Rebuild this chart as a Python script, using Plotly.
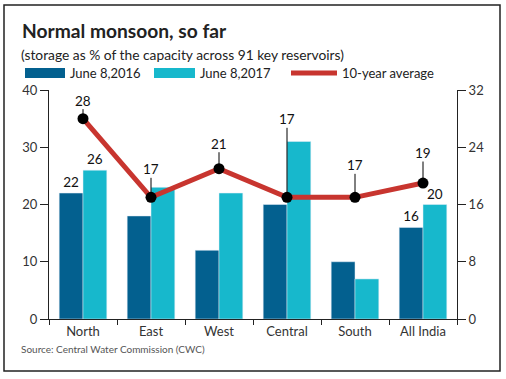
import plotly.graph_objects as go

categories = ["North", "East", "West", "Central", "South", "All India"]
storage_2016 = [22, 18, 12, 20, 10, 16]
storage_2017 = [26, 23, 22, 31, 7, 20]
avg_10yr = [28, 17, 21, 17, 17, 19]
label_2016 = ["22", "", "", "", "", "16"]
label_2017 = ["26", "", "", "", "", "20"]
left_ticks = [0, 10, 20, 30, 40]
right_ticks = [0, 8, 16, 24, 32]

W, H = 506, 379
L, R, T, B = 49, 49, 90, 60
PW, PH = W - L - R, H - T - B

def px(x):
    return (x - L) / PW

def py(y):
    return (H - B - y) / PH

DARK = "#03608f"
LIGHT = "#17b8cc"
RED = "#c8352f"
FONT = "Lato"

fig = go.Figure()
fig.add_trace(go.Bar(x=categories, y=storage_2016, marker_color=DARK, name="June 8,2016",
                     text=label_2016, textposition="outside", cliponaxis=False,
                     textfont=dict(size=13.5, color="#111", family=FONT)))
fig.add_trace(go.Bar(x=categories, y=storage_2017, marker_color=LIGHT, name="June 8,2017",
                     text=label_2017, textposition="outside", cliponaxis=False,
                     textfont=dict(size=13.5, color="#111", family=FONT)))
fig.add_trace(go.Scatter(x=categories, y=avg_10yr, yaxis="y2", mode="lines+markers",
                         line=dict(color=RED, width=5),
                         marker=dict(color="black", size=11), name="10-year average",
                         cliponaxis=False))

offsets = [-18, -28, -25, -78, -32, -30]
for c, v, off in zip(categories, avg_10yr, offsets):
    fig.add_annotation(x=c, y=v, yref="y2", text=str(v), showarrow=True, arrowhead=0,
                       arrowwidth=1, arrowcolor="black", ax=0, ay=off, standoff=0,
                       font=dict(size=13.5, color="#111", family=FONT), borderpad=0)

# title, subtitle, source
fig.add_annotation(xref="paper", yref="paper", x=px(20), y=py(30), xanchor="left", yanchor="middle",
                   text="<b>Normal monsoon, so far</b>", showarrow=False,
                   font=dict(size=19.2, color="#222", family=FONT))
fig.add_annotation(xref="paper", yref="paper", x=px(19), y=py(54), xanchor="left", yanchor="middle",
                   text="(storage as % of the capacity across 91 key reservoirs)", showarrow=False,
                   font=dict(size=13.8, color="#222", family=FONT))
fig.add_annotation(xref="paper", yref="paper", x=px(19), y=py(349), xanchor="left", yanchor="middle",
                   text="Source: Central Water Commission (CWC)", showarrow=False,
                   font=dict(size=10, color="#555", family=FONT))

# legend drawn manually
legend_items = [("June 8,2016", DARK, 25, 65, "bar"), ("June 8,2017", LIGHT, 154, 195, "bar"),
                ("10-year average", RED, 291, 337, "line")]
for name, col, x0, x1, kind in legend_items:
    if kind == "bar":
        fig.add_shape(type="rect", xref="paper", yref="paper", x0=px(x0), x1=px(x1),
                      y0=py(78), y1=py(68), fillcolor=col, line_width=0)
    else:
        fig.add_shape(type="line", xref="paper", yref="paper", x0=px(x0), x1=px(x1),
                      y0=py(73), y1=py(73), line=dict(color=col, width=5))
    fig.add_annotation(xref="paper", yref="paper", x=px(x1 + 3), y=py(73), xanchor="left",
                       yanchor="middle", text=name, showarrow=False,
                       font=dict(size=13, color="#222", family=FONT))

# border
fig.add_shape(type="rect", xref="paper", yref="paper", x0=px(4), x1=px(500), y0=py(371), y1=py(5),
              line=dict(color="#222", width=1.5), fillcolor="rgba(0,0,0,0)", layer="below")

axis_font = dict(size=13, color="#333", family=FONT)
fig.update_layout(
    width=W, height=H, margin=dict(l=L, r=R, t=T, b=B),
    paper_bgcolor="white", plot_bgcolor="white", showlegend=False,
    barmode="group", bargap=0.3, bargroupgap=0,
    font=dict(family=FONT),
    xaxis=dict(tickson="boundaries", ticks="outside", ticklen=5, tickcolor="#222",
               showline=True, linecolor="#222", linewidth=1, tickfont=axis_font,
               showgrid=False, fixedrange=True),
    yaxis=dict(range=[0, 40], tickvals=left_ticks, ticks="outside", ticklen=8, tickcolor="#222",
               showline=True, linecolor="#222", linewidth=1, showgrid=False, zeroline=False,
               tickfont=axis_font),
    yaxis2=dict(range=[0, 32], tickvals=right_ticks, overlaying="y", side="right",
                ticks="outside", ticklen=8, tickcolor="#222", showline=True, linecolor="#222",
                linewidth=1, showgrid=False, zeroline=False, tickfont=axis_font),
)

fig.write_html("out.html", config={"displayModeBar": False},
               post_script="document.body.style.margin='0';document.body.style.overflow='hidden';")
